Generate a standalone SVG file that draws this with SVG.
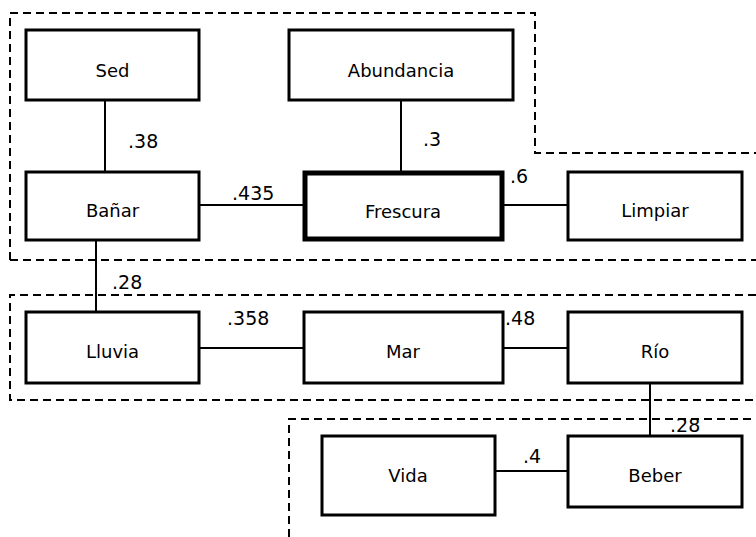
<svg xmlns="http://www.w3.org/2000/svg" width="756" height="537" viewBox="0 0 756 537">
<style>
.box{fill:#fff;stroke:#000;stroke-width:3}
.bold{stroke-width:5}
.t{font-family:"DejaVu Sans",sans-serif;font-size:18px;text-anchor:middle;fill:#000}
.l{font-family:"DejaVu Sans",sans-serif;font-size:19px;fill:#000}
.c{stroke:#000;stroke-width:2;fill:none}
.d{stroke:#000;stroke-width:2;fill:none;stroke-dasharray:8 5}
</style>
<rect width="756" height="537" fill="#fff"/>
<g id="groups">
<path class="d" d="M10 260 V13 H535 V153 H756 M10 260 H756"/>
<path class="d" d="M756 295 H10 V400 H756"/>
<path class="d" d="M289 537 V419 H756"/>
</g>
<g id="connectors">
<line class="c" x1="105" y1="100" x2="105" y2="172"/>
<line class="c" x1="401" y1="100" x2="401" y2="172"/>
<line class="c" x1="199" y1="205" x2="304" y2="205"/>
<line class="c" x1="502" y1="205" x2="568" y2="205"/>
<line class="c" x1="96" y1="240" x2="96" y2="312"/>
<line class="c" x1="199" y1="348" x2="304" y2="348"/>
<line class="c" x1="503" y1="348" x2="568" y2="348"/>
<line class="c" x1="650" y1="383" x2="650" y2="436"/>
<line class="c" x1="495" y1="471" x2="568" y2="471"/>
<text class="l" x="128" y="148">.38</text>
<text class="l" x="423" y="146">.3</text>
<text class="l" x="232" y="200">.435</text>
<text class="l" x="510" y="183">.6</text>
<text class="l" x="112" y="289">.28</text>
<text class="l" x="227" y="325">.358</text>
<text class="l" x="505" y="325">.48</text>
<text class="l" x="670" y="432">.28</text>
<text class="l" x="523" y="463">.4</text>
</g>
<g id="Sed"><rect class="box" x="26" y="30" width="173" height="70"/><text class="t" x="112.5" y="77">Sed</text></g>
<g id="Abundancia"><rect class="box" x="289" y="30" width="224" height="70"/><text class="t" x="401" y="77">Abundancia</text></g>
<g id="Banar"><rect class="box" x="26" y="172" width="173" height="68"/><text class="t" x="112.5" y="217">Bañar</text></g>
<g id="Frescura"><rect class="box bold" x="305" y="173" width="197" height="66"/><text class="t" x="403" y="218">Frescura</text></g>
<g id="Limpiar"><rect class="box" x="568" y="172" width="174" height="68"/><text class="t" x="655" y="217">Limpiar</text></g>
<g id="Lluvia"><rect class="box" x="26" y="312" width="173" height="71"/><text class="t" x="112.5" y="358">Lluvia</text></g>
<g id="Mar"><rect class="box" x="304" y="312" width="199" height="71"/><text class="t" x="403" y="358">Mar</text></g>
<g id="Rio"><rect class="box" x="568" y="312" width="174" height="71"/><text class="t" x="655" y="358">Río</text></g>
<g id="Vida"><rect class="box" x="322" y="436" width="173" height="79"/><text class="t" x="408" y="482">Vida</text></g>
<g id="Beber"><rect class="box" x="568" y="436" width="174" height="71"/><text class="t" x="655" y="482">Beber</text></g>
</svg>
